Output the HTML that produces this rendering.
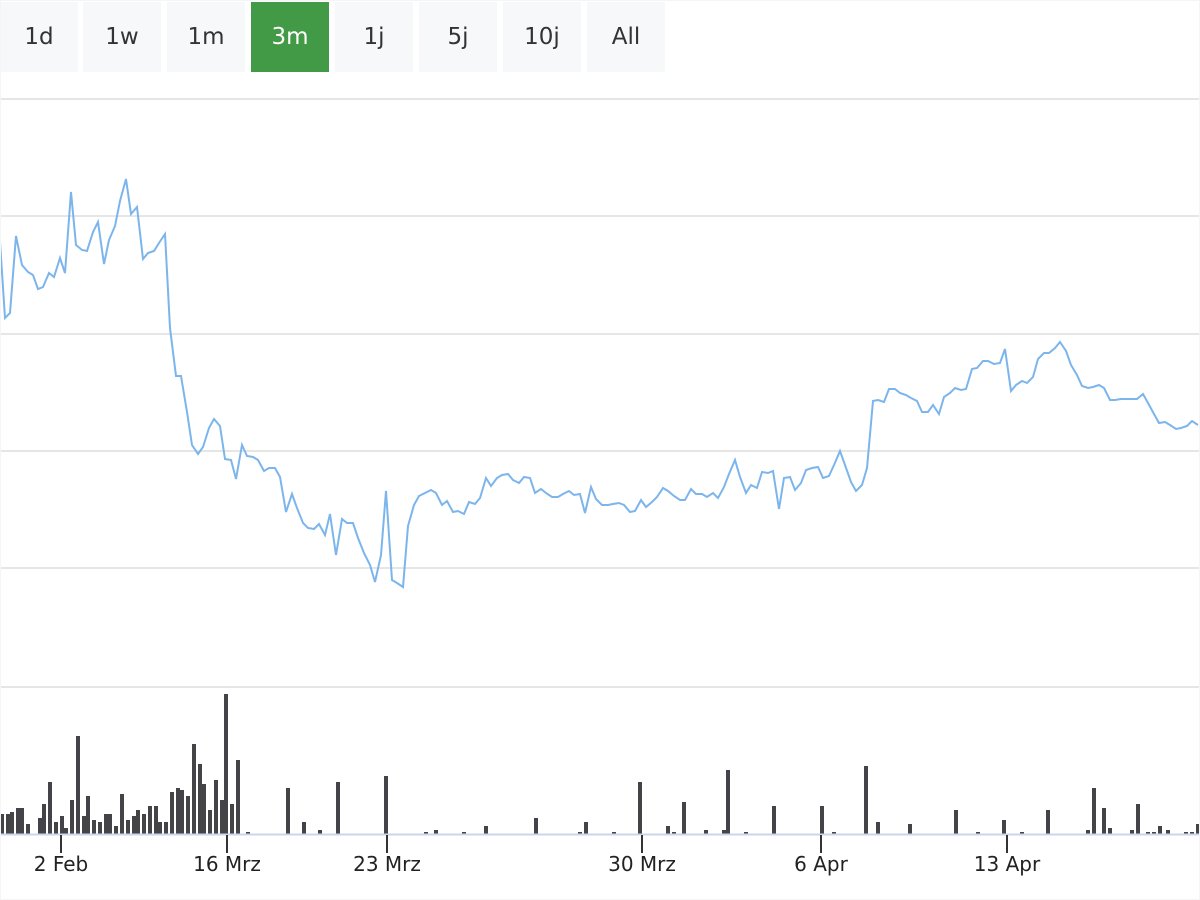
<!DOCTYPE html>
<html><head><meta charset="utf-8"><style>
body{margin:0;width:1200px;height:900px;background:#fff;overflow:hidden;font-family:"DejaVu Sans","Liberation Sans",sans-serif}
.b{position:absolute;top:2px;height:70px;width:78px;background:#f7f8fa;color:#333;font-size:23px;text-align:center;line-height:70px}
.a{background:#439a46;color:#fff}
</style></head><body>
<div class="b" style="left:0">1d</div>
<div class="b" style="left:83px">1w</div>
<div class="b" style="left:167px">1m</div>
<div class="b a" style="left:251px">3m</div>
<div class="b" style="left:335px">1j</div>
<div class="b" style="left:419px">5j</div>
<div class="b" style="left:503px">10j</div>
<div class="b" style="left:587px">All</div>
<svg width="1200" height="900" style="position:absolute;left:0;top:0" xmlns="http://www.w3.org/2000/svg">
<g stroke="#e6e6e6" stroke-width="2">
<line x1="0" x2="1200" y1="99" y2="99"/><line x1="0" x2="1200" y1="216" y2="216"/><line x1="0" x2="1200" y1="334" y2="334"/><line x1="0" x2="1200" y1="451" y2="451"/><line x1="0" x2="1200" y1="568" y2="568"/><line x1="0" x2="1200" y1="687" y2="687"/>
</g>
<polyline fill="none" stroke="#7cb5ec" stroke-width="2" points="0,242 5,318 10,313 16,236 22,265 28,272 33,275 38,289 43,287 49,273 54,277 60,258 65,273 71,192 76,245 82,250 87,251 93,232 98,222 104,264 109,240 115,226 120,201 126,179 131,214 137,207 143,259 148,253 154,251 159,243 165,234 170,328 176,376 181,376 187,412 192,445 198,454 203,447 209,428 214,419 220,426 225,459 231,460 236,479 242,445 247,456 253,457 258,460 264,471 269,468 275,468 280,477 286,512 292,494 297,508 303,523 308,528 314,529 319,524 325,535 330,514 336,555 342,519 347,523 353,523 358,538 364,553 370,565 375,582 381,555 386,491 392,580 397,583 403,587 408,526 414,505 419,496 425,493 431,490 436,493 442,505 447,501 453,512 458,511 464,514 469,502 475,504 480,498 486,478 491,486 497,478 502,475 508,474 513,480 519,483 524,477 530,478 535,493 541,489 546,493 552,497 558,497 563,494 569,491 574,495 580,494 585,513 591,487 596,499 602,505 608,505 613,504 619,503 624,505 630,512 635,511 641,500 646,507 652,502 657,497 663,488 668,491 674,496 680,500 685,500 691,489 696,494 702,494 707,497 713,493 718,498 724,487 729,474 735,460 740,477 746,493 751,485 757,488 762,472 768,473 773,471 779,509 784,478 790,477 795,490 801,483 806,470 812,468 818,467 823,478 829,476 834,465 840,451 845,465 851,482 856,491 862,485 867,468 873,401 878,400 884,402 889,389 895,389 900,393 906,395 911,398 917,401 922,412 928,412 933,405 939,414 944,397 950,393 955,388 961,390 966,389 972,369 977,368 983,361 988,361 994,364 1000,363 1005,349 1011,391 1016,385 1022,381 1027,383 1033,377 1038,359 1044,353 1049,353 1055,348 1060,342 1066,351 1071,365 1077,375 1082,386 1088,388 1093,387 1099,385 1104,388 1110,400 1115,400 1121,399 1126,399 1132,399 1137,399 1143,394 1148,403 1154,414 1159,423 1165,422 1170,425 1176,429 1181,428 1187,426 1192,421 1198,425"/>
<g fill="#434348">
<rect x="0" y="814" width="4" height="20"/><rect x="6" y="814" width="4" height="20"/><rect x="10" y="812" width="4" height="22"/><rect x="16" y="808" width="4" height="26"/><rect x="20" y="808" width="4" height="26"/><rect x="26" y="824" width="4" height="10"/><rect x="38" y="818" width="4" height="16"/><rect x="42" y="804" width="4" height="30"/><rect x="48" y="782" width="4" height="52"/><rect x="54" y="822" width="4" height="12"/><rect x="60" y="816" width="4" height="18"/><rect x="64" y="828" width="4" height="6"/><rect x="70" y="800" width="4" height="34"/><rect x="76" y="736" width="4" height="98"/><rect x="82" y="816" width="4" height="18"/><rect x="86" y="796" width="4" height="38"/><rect x="92" y="820" width="4" height="14"/><rect x="98" y="822" width="4" height="12"/><rect x="104" y="814" width="4" height="20"/><rect x="108" y="814" width="4" height="20"/><rect x="114" y="826" width="4" height="8"/><rect x="120" y="794" width="4" height="40"/><rect x="126" y="820" width="4" height="14"/><rect x="132" y="816" width="4" height="18"/><rect x="136" y="810" width="4" height="24"/><rect x="142" y="814" width="4" height="20"/><rect x="148" y="806" width="4" height="28"/><rect x="154" y="806" width="4" height="28"/><rect x="158" y="822" width="4" height="12"/><rect x="164" y="822" width="4" height="12"/><rect x="170" y="792" width="4" height="42"/><rect x="176" y="788" width="4" height="46"/><rect x="180" y="790" width="4" height="44"/><rect x="186" y="796" width="4" height="38"/><rect x="192" y="744" width="4" height="90"/><rect x="198" y="764" width="4" height="70"/><rect x="202" y="784" width="4" height="50"/><rect x="208" y="810" width="4" height="24"/><rect x="214" y="780" width="4" height="54"/><rect x="220" y="800" width="4" height="34"/><rect x="224" y="694" width="4" height="140"/><rect x="230" y="804" width="4" height="30"/><rect x="236" y="760" width="4" height="74"/><rect x="246" y="832" width="4" height="2"/><rect x="286" y="788" width="4" height="46"/><rect x="302" y="822" width="4" height="12"/><rect x="318" y="830" width="4" height="4"/><rect x="336" y="782" width="4" height="52"/><rect x="384" y="776" width="4" height="58"/><rect x="424" y="832" width="4" height="2"/><rect x="434" y="830" width="4" height="4"/><rect x="462" y="832" width="4" height="2"/><rect x="484" y="826" width="4" height="8"/><rect x="534" y="818" width="4" height="16"/><rect x="578" y="832" width="4" height="2"/><rect x="584" y="822" width="4" height="12"/><rect x="612" y="832" width="4" height="2"/><rect x="638" y="782" width="4" height="52"/><rect x="666" y="826" width="4" height="8"/><rect x="672" y="832" width="4" height="2"/><rect x="682" y="802" width="4" height="32"/><rect x="704" y="830" width="4" height="4"/><rect x="722" y="830" width="4" height="4"/><rect x="726" y="770" width="4" height="64"/><rect x="744" y="832" width="4" height="2"/><rect x="772" y="806" width="4" height="28"/><rect x="820" y="806" width="4" height="28"/><rect x="832" y="832" width="4" height="2"/><rect x="864" y="766" width="4" height="68"/><rect x="876" y="822" width="4" height="12"/><rect x="908" y="824" width="4" height="10"/><rect x="954" y="810" width="4" height="24"/><rect x="976" y="832" width="4" height="2"/><rect x="1002" y="820" width="4" height="14"/><rect x="1020" y="832" width="4" height="2"/><rect x="1046" y="810" width="4" height="24"/><rect x="1086" y="830" width="4" height="4"/><rect x="1092" y="788" width="4" height="46"/><rect x="1102" y="808" width="4" height="26"/><rect x="1108" y="828" width="4" height="6"/><rect x="1130" y="830" width="4" height="4"/><rect x="1136" y="804" width="4" height="30"/><rect x="1146" y="832" width="4" height="2"/><rect x="1152" y="832" width="4" height="2"/><rect x="1158" y="826" width="4" height="8"/><rect x="1166" y="830" width="4" height="4"/><rect x="1184" y="832" width="4" height="2"/><rect x="1190" y="832" width="4" height="2"/><rect x="1196" y="824" width="4" height="10"/>
</g>
<line x1="0" x2="1200" y1="834.5" y2="834.5" stroke="#ccd6eb" stroke-width="2"/>
<g stroke="#333" stroke-width="2">
<line x1="61" x2="61" y1="835" y2="853"/><line x1="227" x2="227" y1="835" y2="853"/><line x1="387" x2="387" y1="835" y2="853"/><line x1="642" x2="642" y1="835" y2="853"/><line x1="821" x2="821" y1="835" y2="853"/><line x1="1007" x2="1007" y1="835" y2="853"/>
</g>
<g font-size="20" fill="#222" text-anchor="middle" font-family="DejaVu Sans, Liberation Sans, sans-serif">
<text x="61" y="871">2 Feb</text><text x="227" y="871">16 Mrz</text><text x="387" y="871">23 Mrz</text><text x="642" y="871">30 Mrz</text><text x="821" y="871">6 Apr</text><text x="1007" y="871">13 Apr</text>
</g>
<rect x="0" y="0" width="1200" height="900" fill="none" stroke="#f5f5f5" stroke-width="2"/>
</svg>
</body></html>
